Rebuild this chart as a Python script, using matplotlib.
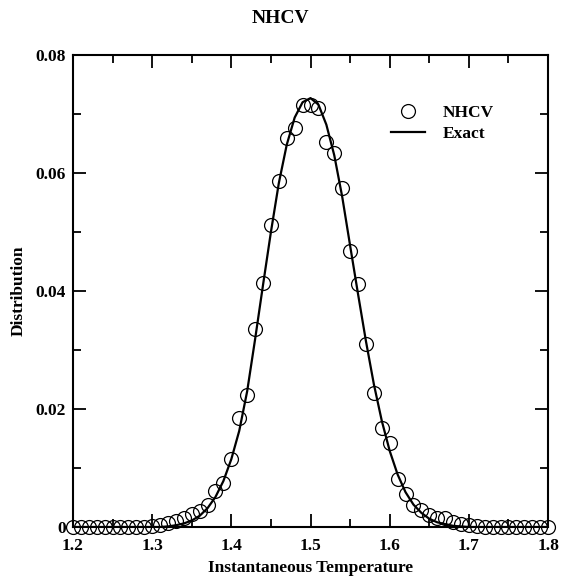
import numpy as np
import matplotlib.pyplot as plt
from matplotlib.ticker import MultipleLocator, FixedLocator

plt.rcParams['font.family'] = ['Liberation Serif', 'DejaVu Serif']
plt.rcParams['font.weight'] = 'bold'

# temperature grid (step 0.01 from 1.20 to 1.80)
temps = [1.20, 1.21, 1.22, 1.23, 1.24, 1.25, 1.26, 1.27, 1.28, 1.29,
         1.30, 1.31, 1.32, 1.33, 1.34, 1.35, 1.36, 1.37, 1.38, 1.39,
         1.40, 1.41, 1.42, 1.43, 1.44, 1.45, 1.46, 1.47, 1.48, 1.49,
         1.50, 1.51, 1.52, 1.53, 1.54, 1.55, 1.56, 1.57, 1.58, 1.59,
         1.60, 1.61, 1.62, 1.63, 1.64, 1.65, 1.66, 1.67, 1.68, 1.69,
         1.70, 1.71, 1.72, 1.73, 1.74, 1.75, 1.76, 1.77, 1.78, 1.79,
         1.80]

# simulated distribution (circles)
nhcv = [0.0, 0.0, 0.0, 0.0, 0.0, 0.0, 0.0, 0.0, 0.0, 0.0,
        0.0002, 0.0004, 0.0007, 0.0011, 0.0016, 0.0022, 0.0028, 0.0037, 0.0061, 0.0075,
        0.0116, 0.0185, 0.0224, 0.0336, 0.0413, 0.0512, 0.0587, 0.0660, 0.0676, 0.0715,
        0.0715, 0.0711, 0.0652, 0.0634, 0.0575, 0.0468, 0.0412, 0.0311, 0.0227, 0.0168,
        0.0143, 0.0081, 0.0056, 0.0038, 0.0029, 0.0020, 0.0016, 0.0016, 0.0009, 0.0005,
        0.0003, 0.0001, 0.0, 0.0, 0.0, 0.0, 0.0, 0.0, 0.0, 0.0,
        0.0]

# exact distribution (line)
exact = [0.0, 0.0, 0.0, 0.0, 0.0, 0.0, 0.0, 0.0, 0.0, 0.0,
         0.0, 0.0, 0.0001, 0.0003, 0.0006, 0.0011, 0.0019, 0.0032, 0.0051, 0.0078,
         0.0115, 0.0163, 0.0230, 0.0318, 0.0410, 0.0500, 0.0583, 0.0648, 0.0694, 0.0720,
         0.0727, 0.0716, 0.0682, 0.0630, 0.0560, 0.0477, 0.0395, 0.0315, 0.0242, 0.0180,
         0.0129, 0.0089, 0.0059, 0.0038, 0.0024, 0.0014, 0.0008, 0.0005, 0.0002, 0.0001,
         0.0, 0.0, 0.0, 0.0, 0.0, 0.0, 0.0, 0.0, 0.0, 0.0,
         0.0]

yticks = [0, 0.02, 0.04, 0.06, 0.08]
ytick_labels = ['0', '0.02', '0.04', '0.06', '0.08']
xticks = [1.2, 1.3, 1.4, 1.5, 1.6, 1.7, 1.8]
xtick_labels = ['1.2', '1.3', '1.4', '1.5', '1.6', '1.7', '1.8']

fig = plt.figure(figsize=(5.61, 5.78), dpi=100)
ax = fig.add_axes([0.130, 0.0882, 0.847, 0.8166])

ax.plot(temps, nhcv, 'o', ms=10, mfc='none', mec='black', mew=0.9,
        label='NHCV', clip_on=False, zorder=3)
ax.plot(temps, exact, '-', color='black', lw=1.6, label='Exact', zorder=4)

ax.set_xlim(1.2, 1.8)
ax.set_ylim(0, 0.08)
ax.xaxis.set_major_locator(FixedLocator(xticks))
ax.set_xticklabels(xtick_labels)
ax.xaxis.set_minor_locator(MultipleLocator(0.05))
ax.yaxis.set_major_locator(FixedLocator(yticks))
ax.set_yticklabels(ytick_labels)
ax.yaxis.set_minor_locator(MultipleLocator(0.01))

ax.tick_params(which='both', direction='in', top=True, right=True,
               width=1.3, labelsize=12.5)
ax.tick_params(which='major', length=9.5, pad=5)
ax.tick_params(axis='x', which='major', pad=8)
ax.tick_params(which='minor', length=5.5)
for s in ax.spines.values():
    s.set_linewidth(1.5)

ax.set_xlabel('Instantaneous Temperature', fontsize=12.5, fontweight='bold', labelpad=4)
ax.set_ylabel('Distribution', fontsize=12.5, fontweight='bold', labelpad=6)
fig.text(0.5, 0.968, 'NHCV', ha='center', va='center', fontsize=14, fontweight='bold')

leg = ax.legend(loc='upper left', bbox_to_anchor=(0.654, 0.909), frameon=False,
                fontsize=12.5, handlelength=2.0, handletextpad=1.0,
                labelspacing=0.3, borderaxespad=0)

fig.savefig('out.png', dpi=100)
